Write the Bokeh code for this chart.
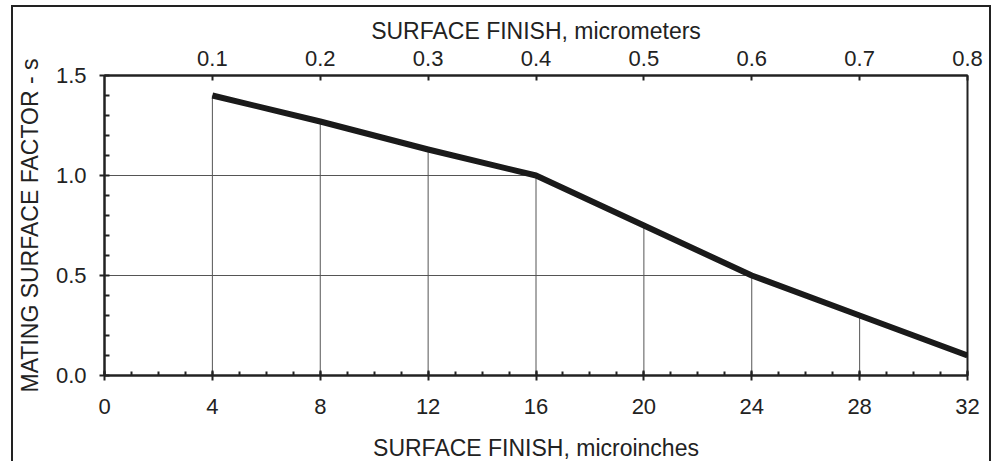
from bokeh.plotting import figure
from bokeh.models import Range1d, LinearAxis, FixedTicker, CustomJSTickFormatter
from bokeh.embed import file_html
from bokeh.resources import INLINE
import numpy as np

# ---- data ----
microinches = [4, 8, 12, 16, 20, 24, 28, 32]
factor = [1.40, 1.27, 1.13, 1.00, 0.75, 0.50, 0.30, 0.10]
bottom_ticks = [0, 4, 8, 12, 16, 20, 24, 28, 32]
top_ticks = [0.1, 0.2, 0.3, 0.4, 0.5, 0.6, 0.7, 0.8]
left_ticks = [0.0, 0.5, 1.0, 1.5]
ref_levels = [1.0, 0.5]

FONT = "Liberation Sans"
INK = "#222222"
OX, OY = 13, 7          # canvas origin on the page (margin + border)
W, H = 980, 456

p = figure(width=W, height=H, x_range=Range1d(0, 32), y_range=Range1d(0, 1.5),
           x_axis_type=None, y_axis_type=None,
           output_backend="svg", toolbar_location=None,
           min_border_left=103 - OX, min_border_right=W - (967 - OX),
           min_border_top=75 - OY, min_border_bottom=H - (376 - OY))
p.styles = {"margin-left": "11px", "margin-top": "5px",
            "border-left": "2px solid #222222",
            "border-top": "2px solid #222222",
            "border-right": "2px solid #222222"}
p.extra_x_ranges = {"um": Range1d(0, 0.8)}
p.outline_line_color = INK
p.outline_line_width = 2
p.background_fill_color = "white"
p.border_fill_color = "white"

def style(ax, size="22px"):
    ax.axis_line_color = INK
    ax.axis_line_width = 2
    ax.major_tick_line_color = INK
    ax.major_tick_line_width = 2
    ax.minor_tick_line_color = INK
    ax.minor_tick_line_width = 2
    ax.major_label_text_font = FONT
    ax.major_label_text_font_size = size
    ax.major_label_text_color = INK
    ax.axis_label_text_font = FONT
    ax.axis_label_text_font_size = "23px"
    ax.axis_label_text_font_style = "normal"
    ax.axis_label_text_color = INK

# bottom axis
xb = LinearAxis(axis_label="SURFACE FINISH, microinches",
                ticker=FixedTicker(ticks=bottom_ticks, minor_ticks=list(range(0, 33))))
style(xb)
xb.major_tick_in = 5
xb.major_tick_out = 5
xb.minor_tick_in = 4
xb.minor_tick_out = 0
xb.major_label_standoff = 18
xb.axis_label_standoff = 18
p.add_layout(xb, "below")

# top axis
xt = LinearAxis(x_range_name="um", axis_label="SURFACE FINISH, micrometers",
                ticker=FixedTicker(ticks=top_ticks, minor_ticks=[]))
style(xt)
xt.major_tick_in = 5
xt.major_tick_out = 0
xt.minor_tick_in = 0
xt.minor_tick_out = 0
xt.major_label_standoff = 10
xt.axis_label_standoff = 4
xt.formatter = CustomJSTickFormatter(code="return tick.toFixed(1);")
p.add_layout(xt, "above")

# left axis
yl = LinearAxis(axis_label="MATING SURFACE FACTOR - s",
                ticker=FixedTicker(ticks=left_ticks,
                                   minor_ticks=[round(v, 2) for v in np.arange(0, 1.51, 0.1)]))
style(yl)
yl.major_tick_in = 0
yl.major_tick_out = 5
yl.minor_tick_in = 5
yl.minor_tick_out = 0
yl.major_label_standoff = 13
yl.axis_label_standoff = 10
yl.formatter = CustomJSTickFormatter(code="return tick.toFixed(1);")
p.add_layout(yl, "left")

# drop lines from the curve to the axis
drop_x = microinches[:-1]
drop_y = factor[:-1]
p.segment(x0=drop_x, y0=[0] * len(drop_x), x1=drop_x, y1=drop_y,
          line_color="#555555", line_width=1)

# horizontal reference lines to the curve
ref_end = [float(np.interp(lv, factor[::-1], microinches[::-1])) for lv in ref_levels]
p.segment(x0=[0] * len(ref_levels), y0=ref_levels, x1=ref_end, y1=ref_levels,
          line_color="#555555", line_width=1)

# main curve
p.line(microinches, factor, line_color="#1a1a1a", line_width=6, line_join="round")

open("out.html", "w").write(file_html(p, INLINE))
